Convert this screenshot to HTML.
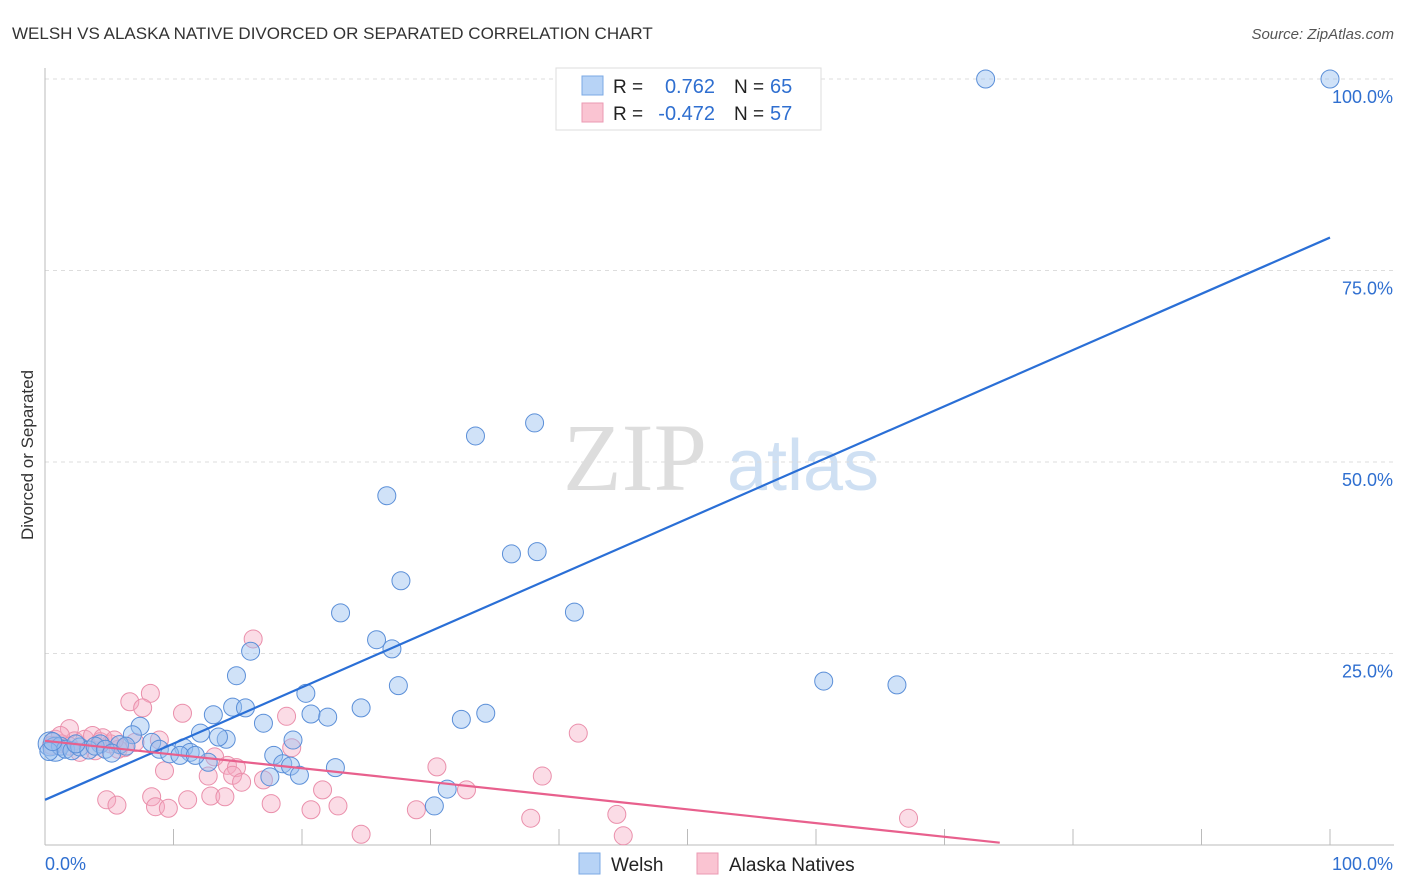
<!DOCTYPE html>
<html><head><meta charset="utf-8"><style>
body{margin:0;background:#fff;font-family:"Liberation Sans",sans-serif;}
svg{display:block}
</style></head><body>
<svg width="1406" height="892">
<text x="12" y="39" font-size="17" fill="#333">WELSH VS ALASKA NATIVE DIVORCED OR SEPARATED CORRELATION CHART</text>
<text x="1394" y="39" font-size="15" fill="#555" font-style="italic" text-anchor="end">Source: ZipAtlas.com</text>
<text transform="translate(33,455) rotate(-90)" font-size="17" fill="#333" text-anchor="middle">Divorced or Separated</text>
<g><text x="635" y="490" font-size="96" fill="#ddd" font-family="Liberation Serif,serif" text-anchor="middle">ZIP</text><text x="803" y="490" font-size="72" fill="#cfe0f3" text-anchor="middle">atlas</text></g>
<g id="grid"></g><g id="axes"></g><g id="marks"></g>
<g>
<rect x="556" y="68" width="265" height="62" fill="#fff" stroke="#ddd"/>
<rect x="582" y="76" width="21" height="19" fill="#b7d3f6" stroke="#7ba9e4"/>
<rect x="582" y="103" width="21" height="19" fill="#fac4d2" stroke="#eb9ab3"/>
<text x="613" y="93" font-size="19" fill="#222">R =</text><text x="715" y="93" font-size="20" fill="#2f6fd0" text-anchor="end">0.762</text>
<text x="734" y="93" font-size="19" fill="#222">N =</text><text x="770" y="93" font-size="20" fill="#2f6fd0">65</text>
<text x="613" y="120" font-size="19" fill="#222">R =</text><text x="715" y="120" font-size="20" fill="#2f6fd0" text-anchor="end">-0.472</text>
<text x="734" y="120" font-size="19" fill="#222">N =</text><text x="770" y="120" font-size="20" fill="#2f6fd0">57</text>
</g>
<g>
<rect x="579" y="853" width="21" height="21" fill="#b7d3f6" stroke="#7ba9e4"/><text x="611" y="871" font-size="19" fill="#222">Welsh</text>
<rect x="697" y="853" width="21" height="21" fill="#fac4d2" stroke="#eb9ab3"/><text x="729" y="871" font-size="19" fill="#222">Alaska Natives</text>
</g>
</svg>
<script>
const yTicks=[25,50,75,100];
const yTickLabels=["25.0%","50.0%","75.0%","100.0%"];
const welshX=[73.2,100,33.5,38.1,26.6,36.3,38.3,27.7,41.2,23.0,25.8,27.0,16.0,14.9,60.6,66.3,27.5,20.3,14.6,15.6,13.1,24.6,34.3,32.4,20.7,22.0,17.0,7.4,12.1,6.8,14.1,13.5,19.3,8.3,5.8,4.3,17.8,10.8,8.9,11.3,12.7,18.5,19.1,22.6,19.8,17.5,31.3,30.3,0.4,0.8,1.2,1.6,2.1,2.7,3.4,3.9,4.7,5.2,6.3,9.7,10.5,11.7,0.3,0.6,2.4];
const welshY=[100,100,53.4,55.1,45.6,38.0,38.3,34.5,30.4,30.3,26.8,25.6,25.3,22.1,21.4,20.9,20.8,19.8,18.0,17.9,17.0,17.9,17.2,16.4,17.1,16.7,15.9,15.5,14.6,14.4,13.8,14.1,13.7,13.4,13.1,13.2,11.7,12.7,12.5,12.1,10.8,10.6,10.3,10.1,9.1,8.9,7.3,5.1,13.2,12.5,12.9,12.5,12.3,12.8,12.4,12.9,12.5,12.0,12.9,11.9,11.7,11.7,12.2,13.5,13.2];
const alaskaX=[16.2,8.2,6.6,7.6,10.7,18.8,1.9,41.5,8.9,19.2,13.2,14.2,14.9,30.5,9.3,12.7,14.6,38.7,17.0,15.3,21.6,32.8,12.9,14.0,8.3,4.8,11.1,5.6,8.6,9.6,17.6,22.8,20.7,28.9,44.5,37.8,67.2,24.6,45.0,0.8,1.3,2.3,3.1,3.7,4.3,5.1,5.7,6.2,7.0,1.2,1.9,3.9,4.5,5.4,2.7,0.5];
const alaskaY=[26.9,19.8,18.7,17.9,17.2,16.8,15.2,14.6,13.7,12.7,11.5,10.4,10.1,10.2,9.7,9.0,9.1,9.0,8.5,8.2,7.2,7.2,6.4,6.3,6.3,5.9,5.9,5.2,5.0,4.8,5.4,5.1,4.6,4.6,4.0,3.5,3.5,1.4,1.2,13.8,13.2,13.6,13.8,14.3,13.5,13.2,12.5,12.7,13.4,14.3,12.9,12.3,14.0,13.7,12.1,13.0];
const welshTrend=[5.9,79.3];
const alaskaTrend=[13.6,0.3,74.3];
const NS="http://www.w3.org/2000/svg";
const X=v=>45+v*12.85, Y=v=>845-v*7.66;
function mk(t,a,p){const e=document.createElementNS(NS,t);for(const k in a)e.setAttribute(k,a[k]);p.appendChild(e);return e;}
const grid=document.getElementById('grid'),axes=document.getElementById('axes'),marks=document.getElementById('marks');
yTicks.forEach((t,i)=>{
 const l=mk('line',{x1:45,x2:1394,y1:Y(t),y2:Y(t),stroke:'#ddd','stroke-dasharray':'4,4'},grid);
 
 
 const tx=mk('text',{x:1393,y:Y(t)+24,'font-size':18,fill:'#2f6fd0','text-anchor':'end'},axes);
 tx.textContent=yTickLabels[i];
 
 
});
const ax=mk('line',{x1:45,x2:45,y1:68,y2:845,stroke:'#bbb'},axes);


const bx=mk('line',{x1:45,x2:1394,y1:845,y2:845,stroke:'#bbb'},axes);


for(let i=1;i<=10;i++){const t=mk('line',{x1:X(i*10),x2:X(i*10),y1:829,y2:845,stroke:'#bbb'},axes);
 
 }
const xl=mk('text',{x:45,y:870,'font-size':18,fill:'#2f6fd0'},axes);xl.textContent='0.0%';


const xr=mk('text',{x:1393,y:870,'font-size':18,fill:'#2f6fd0','text-anchor':'end'},axes);xr.textContent='100.0%';


alaskaX.forEach((v,i)=>{const c=mk('circle',{cx:X(v),cy:Y(alaskaY[i]),r:9,fill:'rgba(246,168,192,0.4)',stroke:'#ea8fab','stroke-width':1},marks);
 
 });
welshX.forEach((v,i)=>{const c=mk('circle',{cx:X(v),cy:Y(welshY[i]),r:(i>=48&&i<50)?12:9,fill:'rgba(150,190,240,0.45)',stroke:'#5b8fd8','stroke-width':1},marks);
 
 });
const wl=mk('line',{x1:X(0),y1:Y(welshTrend[0]),x2:X(100),y2:Y(welshTrend[1]),stroke:'#2a6fd6','stroke-width':2.2},marks);


const al=mk('line',{x1:X(0),y1:Y(alaskaTrend[0]),x2:X(alaskaTrend[2]),y2:Y(alaskaTrend[1]),stroke:'#e8608d','stroke-width':2.2},marks);


</script>
</body></html>
